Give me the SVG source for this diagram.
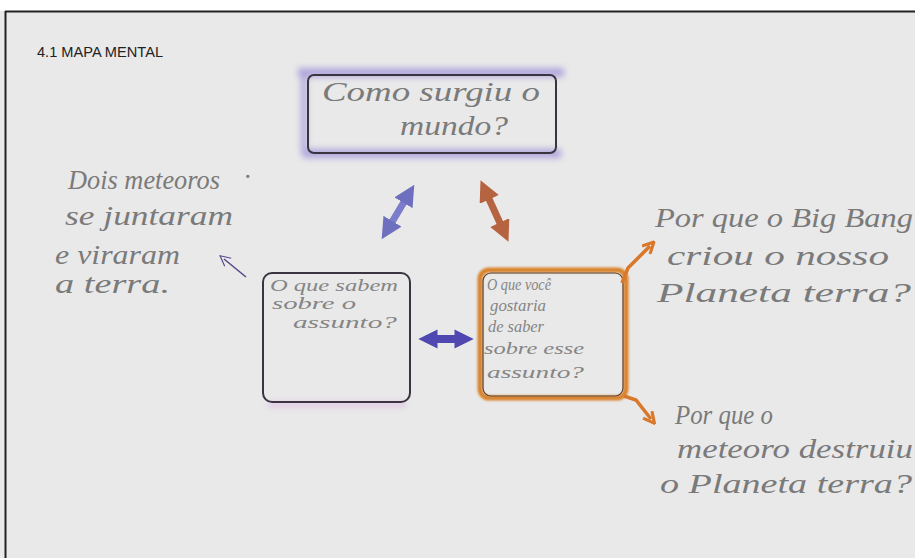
<svg xmlns="http://www.w3.org/2000/svg" width="915" height="558" viewBox="0 0 915 558">
<defs>
<filter id="blur" filterUnits="userSpaceOnUse" x="0" y="0" width="915" height="558"><feGaussianBlur stdDeviation="3"/></filter>
<filter id="soft" filterUnits="userSpaceOnUse" x="0" y="0" width="915" height="558"><feGaussianBlur stdDeviation="0.8"/></filter>
<marker id="hb" viewBox="0 0 10 10" refX="6" refY="5" markerWidth="3" markerHeight="3" orient="auto-start-reverse"><path d="M0,0 L10,5 L0,10 z" fill="#5a5ab8"/></marker>
<marker id="hr" viewBox="0 0 10 10" refX="6" refY="5" markerWidth="3" markerHeight="3" orient="auto-start-reverse"><path d="M0,0 L10,5 L0,10 z" fill="#b0552e"/></marker>
<marker id="hd" viewBox="0 0 10 10" refX="6" refY="5" markerWidth="2.4" markerHeight="2.4" orient="auto-start-reverse"><path d="M0,0 L10,5 L0,10 z" fill="#4f48b0"/></marker>
<marker id="ho" viewBox="0 0 10 10" refX="5" refY="5" markerWidth="4" markerHeight="4" orient="auto"><path d="M1,1 L9,5 L1,9" fill="none" stroke="#d9782a" stroke-width="2.2"/></marker>
<marker id="hp" viewBox="0 0 10 10" refX="5" refY="5" markerWidth="8" markerHeight="8" orient="auto"><path d="M1,1 L9,5 L1,9" fill="none" stroke="#5a4a8a" stroke-width="0.9"/></marker>
</defs>
<style>
.hw{font-family:"Liberation Serif","DejaVu Serif",serif;font-style:italic;fill:#7a7a7a;font-size:27px}
.hs{font-family:"Liberation Serif","DejaVu Serif",serif;font-style:italic;fill:#858585;font-size:16px}
.box{fill:none;stroke:#3a3440;stroke-width:2}
</style>
<rect x="0" y="0" width="915" height="558" fill="#e9e9e9"/>
<rect x="0" y="0" width="915" height="11" fill="#ffffff"/>
<line x1="5" y1="11.5" x2="915" y2="11.5" stroke="#222" stroke-width="2"/>
<line x1="5.5" y1="11" x2="5.5" y2="558" stroke="#222" stroke-width="2"/>
<text x="37" y="57" font-family="Liberation Sans, Arial, sans-serif" font-size="14" fill="#222" textLength="126" lengthAdjust="spacingAndGlyphs">4.1 MAPA MENTAL</text>

<g id="top-node">
<g filter="url(#blur)" opacity="0.6">
<rect x="298" y="68" width="266" height="9" fill="#8a7ad4"/>
<rect x="303" y="149" width="258" height="9" fill="#8a7ad4"/>
<rect x="301" y="72" width="6" height="82" fill="#8a7ad4"/>
</g>
<rect x="308" y="75" width="248" height="78" rx="6" class="box"/>
<text class="hw" x="322" y="101" textLength="218" lengthAdjust="spacingAndGlyphs">Como surgiu o</text>
<text class="hw" x="400" y="135" textLength="108" lengthAdjust="spacingAndGlyphs">mundo?</text>
</g>

<g id="left-node">
<rect x="268" y="402" width="138" height="5" fill="#d8a8e0" opacity="0.6" filter="url(#blur)"/>
<rect x="263" y="273" width="147" height="129" rx="9" class="box"/>
<text class="hs" x="270" y="291" textLength="128" lengthAdjust="spacingAndGlyphs">O que sabem</text>
<text class="hs" x="272" y="309" textLength="84" lengthAdjust="spacingAndGlyphs">sobre o</text>
<text class="hs" x="293" y="328" textLength="104" lengthAdjust="spacingAndGlyphs">assunto?</text>
</g>

<g id="right-node">
<rect x="480" y="270" width="146" height="128" rx="9" fill="none" stroke="#d9822b" stroke-width="5" filter="url(#soft)"/>
<rect x="483" y="273" width="140" height="123" rx="8" fill="none" stroke="#5a4030" stroke-width="1.2"/>
<text class="hs" x="487" y="290" textLength="64" lengthAdjust="spacingAndGlyphs">O que você</text>
<text class="hs" x="490" y="311" textLength="56" lengthAdjust="spacingAndGlyphs">gostaria</text>
<text class="hs" x="488" y="332" textLength="56" lengthAdjust="spacingAndGlyphs">de saber</text>
<text class="hs" x="484" y="354" textLength="100" lengthAdjust="spacingAndGlyphs">sobre esse</text>
<text class="hs" x="487" y="378" textLength="97" lengthAdjust="spacingAndGlyphs">assunto?</text>
</g>

<g id="left-text">
<text class="hw" x="68" y="189" textLength="152" lengthAdjust="spacingAndGlyphs">Dois meteoros</text>
<text class="hw" x="244" y="186" font-size="20" fill="#888">·</text>
<text class="hw" x="65" y="225" textLength="168" lengthAdjust="spacingAndGlyphs">se juntaram</text>
<text class="hw" x="55" y="264" font-size="25" textLength="125" lengthAdjust="spacingAndGlyphs">e viraram</text>
<text class="hw" x="55" y="293" font-size="25" textLength="115" lengthAdjust="spacingAndGlyphs">a terra.</text>
</g>

<g id="right-top-text">
<text class="hw" x="655" y="227" textLength="258" lengthAdjust="spacingAndGlyphs">Por que o Big Bang</text>
<text class="hw" x="667" y="265" textLength="222" lengthAdjust="spacingAndGlyphs">criou o nosso</text>
<text class="hw" x="657" y="302" textLength="254" lengthAdjust="spacingAndGlyphs">Planeta terra?</text>
</g>

<g id="right-bottom-text">
<text class="hw" x="675" y="424" textLength="98" lengthAdjust="spacingAndGlyphs">Por que o</text>
<text class="hw" x="677" y="458" textLength="236" lengthAdjust="spacingAndGlyphs">meteoro destruiu</text>
<text class="hw" x="660" y="493" textLength="252" lengthAdjust="spacingAndGlyphs">o Planeta terra?</text>
</g>

<g id="connectors">
<line x1="386" y1="232" x2="410" y2="192" stroke="#6a6ac8" stroke-width="7" marker-start="url(#hb)" marker-end="url(#hb)" opacity="0.85"/>
<line x1="484" y1="188" x2="505" y2="234" stroke="#b0552e" stroke-width="7" marker-start="url(#hr)" marker-end="url(#hr)" opacity="0.9"/>
<line x1="426" y1="339" x2="466" y2="339" stroke="#4f48b0" stroke-width="8" marker-start="url(#hd)" marker-end="url(#hd)"/>
<polyline points="622,283 628,268 650,246" fill="none" stroke="#d9782a" stroke-width="3.5" marker-end="url(#ho)"/>
<polyline points="624,396 636,400 651,419" fill="none" stroke="#d9782a" stroke-width="3.5" marker-end="url(#ho)"/>
<line x1="246" y1="277" x2="224" y2="259" stroke="#5a4a8a" stroke-width="1.6" marker-end="url(#hp)"/>
</g>
</svg>
